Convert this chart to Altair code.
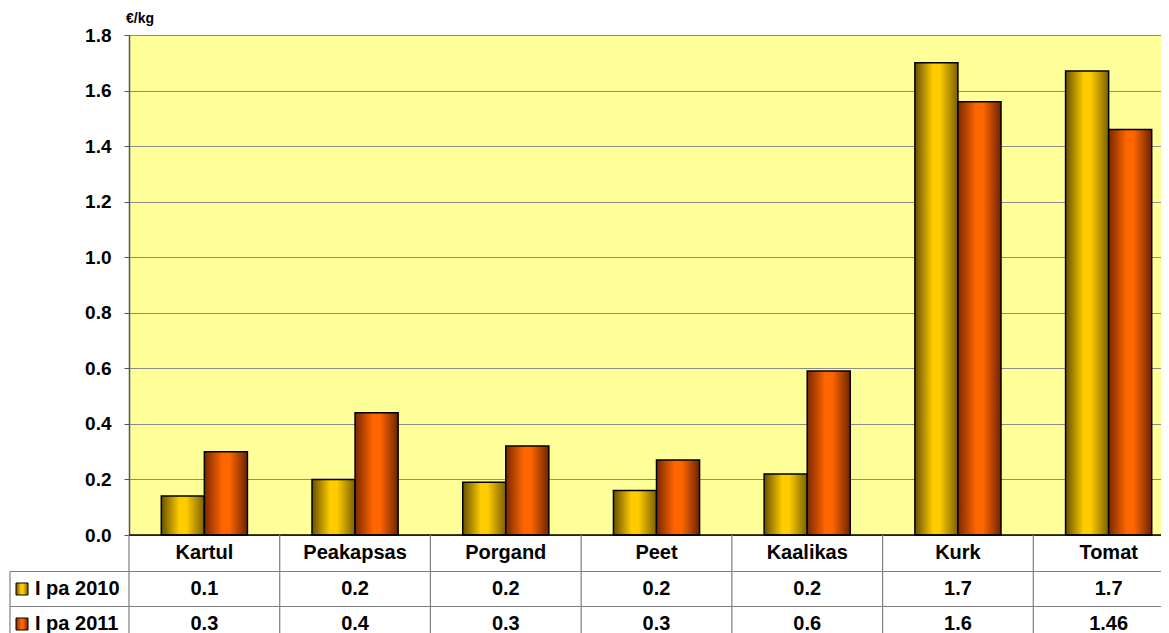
import altair as alt
import pandas as pd

categories = ["Kartul", "Peakapsas", "Porgand", "Peet", "Kaalikas", "Kurk", "Tomat"]
series = ["I pa 2010", "I pa 2011"]
values_2010 = [0.14, 0.20, 0.19, 0.16, 0.22, 1.70, 1.67]
values_2011 = [0.30, 0.44, 0.32, 0.27, 0.59, 1.56, 1.46]
labels_2010 = ["0.1", "0.2", "0.2", "0.2", "0.2", "1.7", "1.7"]
labels_2011 = ["0.3", "0.4", "0.3", "0.3", "0.6", "1.6", "1.46"]
y_ticks = [0.0, 0.2, 0.4, 0.6, 0.8, 1.0, 1.2, 1.4, 1.6, 1.8]
unit_label = "€/kg"

FONT = "Liberation Sans, Arial, sans-serif"
LINE = "#7f7f7f"
TFS = 20

rows = []
for c, v1, v2, l1, l2 in zip(categories, values_2010, values_2011, labels_2010, labels_2011):
    rows.append({"category": c, "series": series[0], "value": v1, "label": l1})
    rows.append({"category": c, "series": series[1], "value": v2, "label": l2})
df = pd.DataFrame(rows)
df_cat = pd.DataFrame({"category": categories})

def grad(edge1, mid, edge2):
    return alt.LinearGradient(
        gradient="linear",
        stops=[
            alt.GradientStop(color=edge1, offset=0),
            alt.GradientStop(color=mid, offset=0.42),
            alt.GradientStop(color=mid, offset=0.58),
            alt.GradientStop(color=edge2, offset=1),
        ],
        x1=0, x2=1, y1=0, y2=0,
    )

fills = [grad("#665000", "#FFCC00", "#7a6000"), grad("#7a2800", "#FF6600", "#6e2400")]

x_scale = alt.Scale(domain=categories, range=[0, 1055], paddingInner=0, paddingOuter=0)
y_scale = alt.Scale(domain=[0, 1.8], nice=False, zero=True)
y_axis = alt.Axis(
    values=y_ticks, format=".1f", title=None, grid=True,
    gridColor="#8c8c8c", gridWidth=1, domainColor="#555555", domainWidth=1.5,
    tickColor="#555555", tickSize=5, labelPadding=13,
    labelFont=FONT, labelFontSize=19, labelFontWeight="bold",
    labelColor="black",
)

def X(**kw):
    return alt.X("category:N", sort=categories, scale=x_scale, axis=None, **kw)

layers = []
for i, s in enumerate(series):
    layers.append(
        alt.Chart(df)
        .transform_filter(alt.datum.series == s)
        .mark_bar(color=fills[i], stroke="black", strokeWidth=1.5)
        .encode(
            x=X(),
            xOffset=alt.XOffset("series:N", scale=alt.Scale(domain=series, paddingInner=0, paddingOuter=0.75)),
            y=alt.Y("value:Q", scale=y_scale, axis=y_axis),
        )
    )

zero_line = alt.Chart(pd.DataFrame({"value": [0.0]})).mark_rule(color="black", strokeWidth=1.5).encode(
    y=alt.Y("value:Q", scale=y_scale, axis=y_axis)
)

unit = alt.Chart(pd.DataFrame({"t": [unit_label]})).mark_text(
    font=FONT, fontSize=14, fontWeight="bold", align="left", baseline="middle"
).encode(text="t:N", x=alt.value(-3), y=alt.value(-16))

# data table
header = alt.Chart(df_cat).mark_text(
    font=FONT, fontSize=TFS, fontWeight="bold", baseline="middle"
).encode(x=X(), text="category:N", y=alt.value(518))

row_y = [554, 589]
row_text = []
for i, s in enumerate(series):
    row_text.append(
        alt.Chart(df).transform_filter(alt.datum.series == s).mark_text(
            font=FONT, fontSize=TFS, fontWeight="bold", baseline="middle"
        ).encode(x=X(), text="label:N", y=alt.value(row_y[i]))
    )

vlines = alt.Chart(df_cat).mark_rule(color=LINE, strokeWidth=1.2).encode(
    x=X(bandPosition=0), y=alt.value(500), y2=alt.value(640)
)

hlines = []
for yv in [536.5, 571.5]:
    hlines.append(
        alt.Chart(df_cat.head(1)).mark_rule(color=LINE, strokeWidth=1.2).encode(
            x=alt.value(-119), x2=alt.value(1060), y=alt.value(yv)
        )
    )
left_border = alt.Chart(df_cat.head(1)).mark_rule(color=LINE, strokeWidth=1.2).encode(
    x=alt.value(-119), y=alt.value(536.5), y2=alt.value(640)
)

legend_parts = []
for i, s in enumerate(series):
    ldf = pd.DataFrame({"series": [s]})
    legend_parts.append(
        alt.Chart(ldf).mark_rect(color=fills[i], stroke="black", strokeWidth=1).encode(
            x=alt.value(-113), x2=alt.value(-101),
            y=alt.value(row_y[i] - 6), y2=alt.value(row_y[i] + 6),
        )
    )
    legend_parts.append(
        alt.Chart(ldf).mark_text(
            font=FONT, fontSize=TFS, fontWeight="bold", align="left", baseline="middle"
        ).encode(text="series:N", x=alt.value(-94), y=alt.value(row_y[i]))
    )

chart = alt.layer(
    *layers, zero_line, unit, header, *row_text, vlines, *hlines, left_border, *legend_parts
).resolve_scale(x="shared", y="shared").properties(
    width=1032, height=500,
    autosize=alt.AutoSizeParams(type="none"),
    padding={"left": 121, "top": 27, "right": 0, "bottom": 98},
    background="white",
).configure_view(fill="#FFFF99", stroke=None)

chart.save("out.html", embed_options={"renderer": "svg", "actions": False})
